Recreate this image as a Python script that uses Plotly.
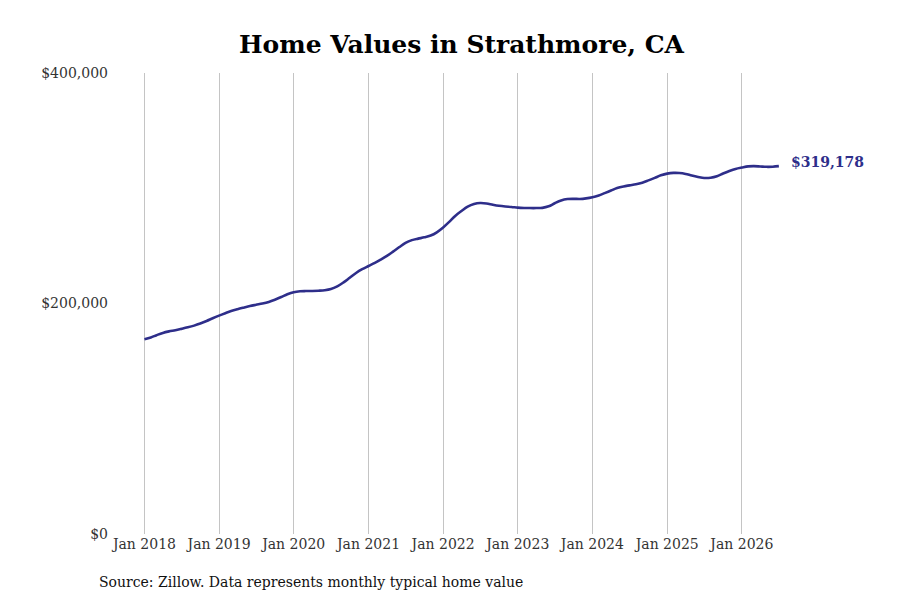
"""Home values in Strathmore, CA — Zillow monthly typical home value line chart."""
import pandas as pd
import plotly.graph_objects as go

# monthly typical home value, Jan 2018 .. Jul 2026 (USD)
start_month = "2018-01-01"
n_months = 103
values = [
    169000, 170500, 172500, 174500, 175800, 176800, 178000, 179300, 180800, 182600, 184800, 187200,
    189500, 191600, 193400, 195000, 196400, 197800, 198900, 200000, 201400, 203300, 205600, 208000,
    209800, 210600, 210800, 210900, 211100, 211500, 212500, 214800, 218300, 222300, 226500, 229800,
    232500, 235200, 238000, 241300, 245000, 249000, 252600, 255000, 256300, 257400, 259000, 261800,
    266000, 271000, 276000, 280300, 284000, 286300, 287200, 286800, 285700, 284800, 284200, 283800,
    283200, 282900, 282800, 282800, 283000, 284300, 287000, 289400, 290600, 290800, 290700, 291200,
    292200, 293800, 295800, 298000, 300200, 301600, 302500, 303400, 304800, 306800, 309000, 311200,
    312700, 313300, 313200, 312400, 311000, 309800, 308900, 309100, 310400, 312800, 315000, 316800,
    318000, 319000, 319200, 318900, 318600, 318700, 319178,
]
y_ticks = [0, 200000, 400000]
y_tick_labels = ["$0", "$200,000", "$400,000"]

dates = pd.date_range(start_month, periods=n_months, freq="MS")

LINE = "#2e2e8a"
FONT = "DejaVu Serif"

fig = go.Figure()
fig.add_trace(go.Scatter(
    x=dates, y=values, mode="lines",
    line=dict(color=LINE, width=2.6, shape="spline"),
    hoverinfo="skip", showlegend=False,
))

# end-of-line value label
fig.add_annotation(
    x=dates[-1], y=values[-1], text=f"<b>${values[-1]:,.0f}</b>",
    showarrow=False, xanchor="left", xshift=10, yshift=4,
    font=dict(family=FONT, size=14, color=LINE),
)
# source note under the axis
fig.add_annotation(
    x=-0.026, y=-0.104, xref="paper", yref="paper",
    text="Source: Zillow. Data represents monthly typical home value",
    showarrow=False, xanchor="left", yanchor="middle",
    font=dict(family=FONT, size=14, color="#111"),
)

fig.update_layout(
    width=900, height=600,
    title=dict(text="<b>Home Values in Strathmore, CA</b>", x=453.5 / 900, xanchor="center",
               y=1 - 36 / 600, yanchor="middle",
               font=dict(family=FONT, size=25, color="black")),
    plot_bgcolor="white", paper_bgcolor="white",
    margin=dict(l=107, r=95, t=65, b=74),
    font=dict(family=FONT, size=14, color="#333"),
)
fig.update_xaxes(
    range=["2017-08-10", "2026-12-15"],
    tickformat="%b %Y", dtick="M12", tick0="2018-01-01",
    showgrid=True, gridcolor="#c4c4c4", gridwidth=1,
    zeroline=False, showline=False, ticks="",
)
fig.update_yaxes(
    range=[0, 400000], tickvals=y_ticks, ticktext=y_tick_labels,
    ticklabelstandoff=6,
    showgrid=False, zeroline=False, showline=False, ticks="",
)

fig.write_html("out.html")
